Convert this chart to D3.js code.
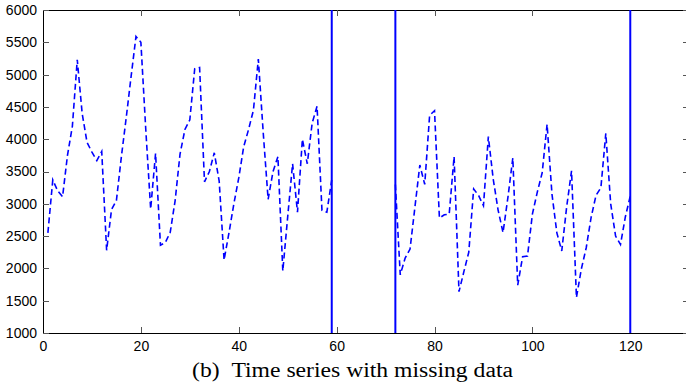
<!DOCTYPE html>
<html>
<head>
<meta charset="utf-8">
<script src="https://cdn.jsdelivr.net/npm/d3@7/dist/d3.min.js"></script>
<style>
  html, body { margin: 0; padding: 0; background: #fff; }
  svg { display: block; }
</style>
</head>
<body>
<div id="chart"></div>
<script>
// ---- data ----
const xTicks = [0, 20, 40, 60, 80, 100, 120];
const yTicks = [1000, 1500, 2000, 2500, 3000, 3500, 4000, 4500, 5000, 5500, 6000];
const xDomain = [0, 132];
const yDomain = [1000, 6000];

// first observed segment, time steps 1..59
const seg1Start = 1;
const seg1Values = [
  2550, 3370, 3200, 3110, 3750, 4200, 5230, 4400, 3950, 3800,
  3670, 3810, 2280, 2910, 3050, 3720, 4330, 4970, 5590, 5500,
  4150, 2920, 3780, 2360, 2400, 2560, 3050, 3770, 4150, 4300,
  5090, 5110, 3340, 3500, 3790, 3350, 2130, 2550, 3000, 3400,
  3880, 4150, 4450, 5240, 4100, 3070, 3500, 3730, 1960, 2800,
  3620, 2870, 4000, 3620, 4250, 4510, 2900, 2870, 3370
];
// second observed segment, time steps 72..120
const seg2Start = 72;
const seg2Values = [
  3300, 1900, 2160, 2300, 2950, 3600, 3300, 4370, 4440, 2780,
  2830, 2840, 3730, 1640, 1950, 2250, 3230, 3130, 2970, 4040,
  3380, 2900, 2555, 3100, 3710, 1740, 2180, 2190, 2840, 3180,
  3480, 4230, 3150, 2550, 2270, 2950, 3510, 1550, 1990, 2320,
  2790, 3130, 3250, 4090, 3000, 2500, 2370, 2800, 3120
];
// boundaries of the missing-data region
const markers = [59, 72, 120];
const caption = "(b)\u2002Time series with missing data";

(function () {
  // ---- layout ----
  const W = 686, H = 388;
  const mLeft = 43, mRight = 689, mTop = 10, mBottom = 333;

  const svg = d3.select("#chart").append("svg")
    .attr("width", W).attr("height", H);

  const x = d3.scaleLinear().domain(xDomain).range([mLeft, mRight]);
  const y = d3.scaleLinear().domain(yDomain).range([mBottom, mTop]);

  const tickLen = 6;
  const fontFam = "'Liberation Sans', Arial, Helvetica, sans-serif";

  function styleAxis(g) {
    g.select(".domain").attr("stroke", "#000").attr("stroke-width", 1).attr("shape-rendering", "crispEdges");
    g.selectAll(".tick line").attr("stroke", "#555").attr("stroke-width", 1).attr("shape-rendering", "crispEdges");
    g.selectAll(".tick text").attr("fill", "#000").style("font-family", fontFam).style("font-size", "14px");
  }

  svg.append("g").attr("transform", `translate(0,${mBottom})`)
    .call(d3.axisBottom(x).tickValues(xTicks).tickSizeInner(-tickLen).tickSizeOuter(0).tickPadding(8).tickFormat(d3.format("d")))
    .call(styleAxis);
  svg.append("g").attr("transform", `translate(0,${mTop})`)
    .call(d3.axisTop(x).tickValues(xTicks).tickSizeInner(-tickLen).tickSizeOuter(0).tickFormat(""))
    .call(styleAxis);
  svg.append("g").attr("transform", `translate(${mLeft},0)`)
    .call(d3.axisLeft(y).tickValues(yTicks).tickSizeInner(-tickLen).tickSizeOuter(0).tickPadding(6).tickFormat(d3.format("d")))
    .call(styleAxis);
  svg.append("g").attr("transform", `translate(${mRight},0)`)
    .call(d3.axisRight(y).tickValues(yTicks).tickSizeInner(-tickLen).tickSizeOuter(0).tickFormat(""))
    .call(styleAxis);

  const line = d3.line().x(d => x(d[0])).y(d => y(d[1]));
  const seg1 = seg1Values.map((v, i) => [seg1Start + i, v]);
  const seg2 = seg2Values.map((v, i) => [seg2Start + i, v]);

  svg.append("g").selectAll("path.series")
    .data([seg1, seg2])
    .join("path")
    .attr("class", "series")
    .attr("d", line)
    .attr("fill", "none")
    .attr("stroke", "#0000ff")
    .attr("stroke-width", 1.6)
    .attr("stroke-dasharray", "6,3.5");

  svg.append("g").selectAll("line.marker")
    .data(markers)
    .join("line")
    .attr("class", "marker")
    .attr("x1", d => x(d)).attr("x2", d => x(d))
    .attr("y1", y(yDomain[1])).attr("y2", y(yDomain[0]))
    .attr("stroke", "#0000ff")
    .attr("stroke-width", 2);

  svg.append("text")
    .attr("x", 192)
    .attr("y", 377)
    .attr("text-anchor", "start")
    .attr("textLength", 321)
    .attr("lengthAdjust", "spacingAndGlyphs")
    .style("font-family", "'Liberation Serif', 'Times New Roman', serif")
    .style("font-size", "20px")
    .style("white-space", "pre")
    .attr("fill", "#000")
    .text(caption);
})();
</script>
</body>
</html>
